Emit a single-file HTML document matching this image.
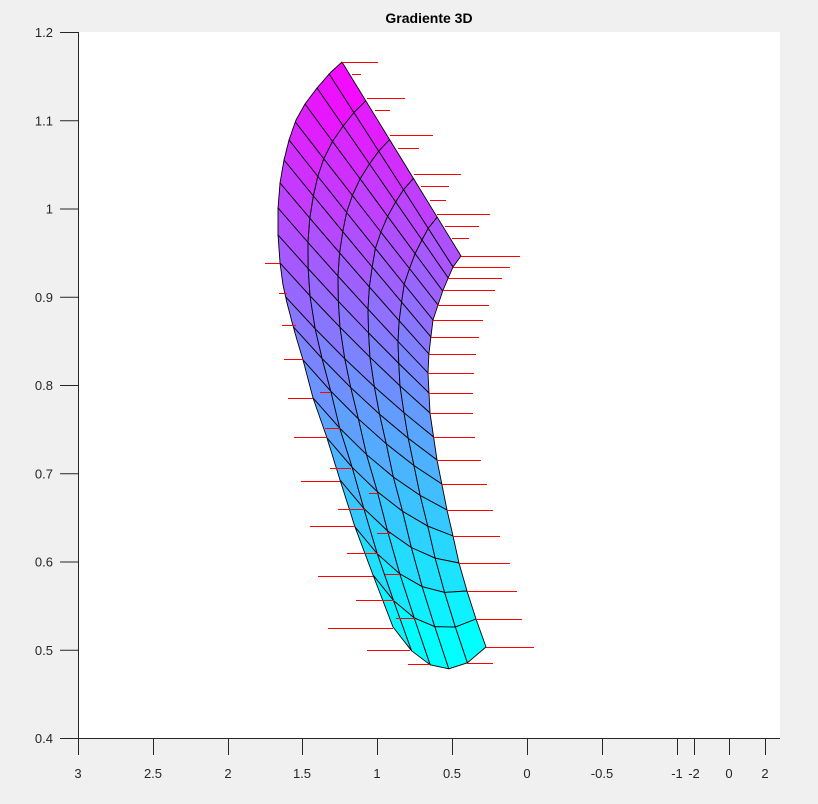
<!DOCTYPE html>
<html><head><meta charset="utf-8"><style>
html,body{margin:0;padding:0;background:#f0f0f0;}
svg{display:block;font-family:"Liberation Sans",sans-serif;}
</style></head><body>
<svg id="s" width="818" height="804" xmlns="http://www.w3.org/2000/svg">
<rect x="0" y="0" width="818" height="804" fill="#f0f0f0"/>
<rect x="78" y="32" width="702" height="706" fill="#fff"/>
<text x="429" y="23" text-anchor="middle" font-size="14" font-weight="bold" fill="#000">Gradiente 3D</text>
<g id="mesh"></g>
<g id="red" stroke="#ff0000" stroke-width="1"></g>
<g stroke="#262626" stroke-width="1">
<line x1="78.5" y1="32" x2="78.5" y2="738"/>
<line x1="78" y1="738.5" x2="780" y2="738.5"/>
</g>
<g id="axes" fill="#262626" font-size="13"></g>
</svg>
<script>
var NS="http://www.w3.org/2000/svg";
function el(n,a,p){var e=document.createElementNS(NS,n);for(var k in a)e.setAttribute(k,a[k]);p.appendChild(e);return e;}
var axes=document.getElementById('axes');
var yl=['1.2','1.1','1','0.9','0.8','0.7','0.6','0.5','0.4'];
for(var i=0;i<9;i++){var y=32+i*88.25;
 el('line',{x1:60,y1:y+0.5,x2:78,y2:y+0.5,stroke:'#262626'},axes);
 var t=el('text',{x:53,y:y+5,'text-anchor':'end'},axes);t.textContent=yl[i];}
var xt=[[78,'3'],[153,'2.5'],[228,'2'],[302,'1.5'],[377,'1'],[452,'0.5'],[527,'0'],[602,'-0.5'],[677,'-1'],[694,'-2'],[729,'0'],[765,'2']];
xt.forEach(function(d){el('line',{x1:d[0]+0.5,y1:738,x2:d[0]+0.5,y2:755,stroke:'#262626'},axes);
 var t=el('text',{x:d[0],y:778,'text-anchor':'middle'},axes);t.textContent=d[1];});
function interp(pts,y){for(var i=0;i<pts.length-1;i++){var a=pts[i],b=pts[i+1];
 if(y>=a[1]&&y<=b[1]){var f=(y-a[1])/(b[1]-a[1]||1);return a[0]+f*(b[0]-a[0]);}}
 return y<pts[0][1]?pts[0][0]:pts[pts.length-1][0];}
var Lp=[[342,62],[330,73],[317,88],[305,104],[296,120],[289,140],[284,160],[280,183],[278,208],[278,235],[280,263],[283,285],[287,303],[292,322],[297,340],[303,360],[313,398],[327,438],[340,480],[355,527],[373,575],[393,627]];
var Rp=[[461,256],[453,267],[443,290],[433,320],[429,353],[428,373],[430,413],[437,460],[442,485],[447,510],[453,536],[459,563],[467,591],[476,619],[486,647]];
var Ly=[62,74,88,104,122,140,160,183,208,235,263,297,327,360,398,438,480,527,575,627];
var Ry=[256,267,278,291,305,320,337,354,373,393,413,437,460,484,510,536,563,591,619,647];
var NC=5,NR=20,P=[];
for(var j=0;j<NR;j++){P[j]=[];var L=[interp(Lp,Ly[j]),Ly[j]],R=[interp(Rp,Ry[j]),Ry[j]];
 var k=31*Math.pow(j/19,3);
 for(var i=0;i<=NC;i++){var s=i/NC;
  P[j][i]=[L[0]+(R[0]-L[0])*s,L[1]+(R[1]-L[1])*s+k*4*s*(1-s)];}}
var mesh=document.getElementById('mesh');
for(var j=0;j<NR-1;j++)for(var i=0;i<NC;i++){
 var a=P[j][i],b=P[j][i+1],c=P[j+1][i+1],d=P[j+1][i];
 var pts=[a,b,c,d];
 if(i==0){ // smooth left edge between rows
  var ext=[];for(var m=1;m<8;m++){var yy=a[1]+(d[1]-a[1])*m/8;ext.push([interp(Lp,yy),yy]);}
  pts=[a,b,c,d].concat(ext.reverse());}
 var cy=(a[1]+b[1]+c[1]+d[1])/4;var t=1-(cy-60)/(640-60);t=Math.max(0,Math.min(1,t));
 var col='rgb('+Math.round(255*t)+','+Math.round(255*(1-t))+',255)';
 el('polygon',{points:pts.map(function(p){return p[0].toFixed(1)+','+p[1].toFixed(1)}).join(' '),fill:col,stroke:'#000','stroke-width':0.9,'stroke-linejoin':'round'},mesh);}
var red=document.getElementById('red');
var R=[[62,342,378],[74,352,361],[98,367,405],[110,375,390],[135,390,433],[148,398,419],[174,414,461],[186,421,449],[200,430,446],[214,437,490],[226,445,479],[238,452,469],[256,461,520],[267,453,510],[278,448,502],[290,443,495],[305,437,489],[320,433,483],[337,431,479],[354,429,476],[373,428,474],[393,429,473],[413,430,473],[437,433,475],[460,437,481],[484,441,487],[510,447,493],[536,453,500],[563,459,510],[591,467,517],[619,476,522],[647,486,534],[663,467,493],
[263,265,280],[293,279,287],[325,282,296],[359,284,303],[398,288,313],[437,294,327],[481,301,340],[526,310,355],[576,318,373],[628,328,393],[650,367,410],[664,408,430],
[392,320,330],[428,325,340],[468,330,351],[509,338,365],[553,347,378],[600,356,394],[618,396,415],[574,385,400],[533,377,391],[493,369,378]];
R.forEach(function(r){el('line',{x1:r[1],y1:r[0]+0.5,x2:r[2],y2:r[0]+0.5},red);});
</script>
</body></html>
